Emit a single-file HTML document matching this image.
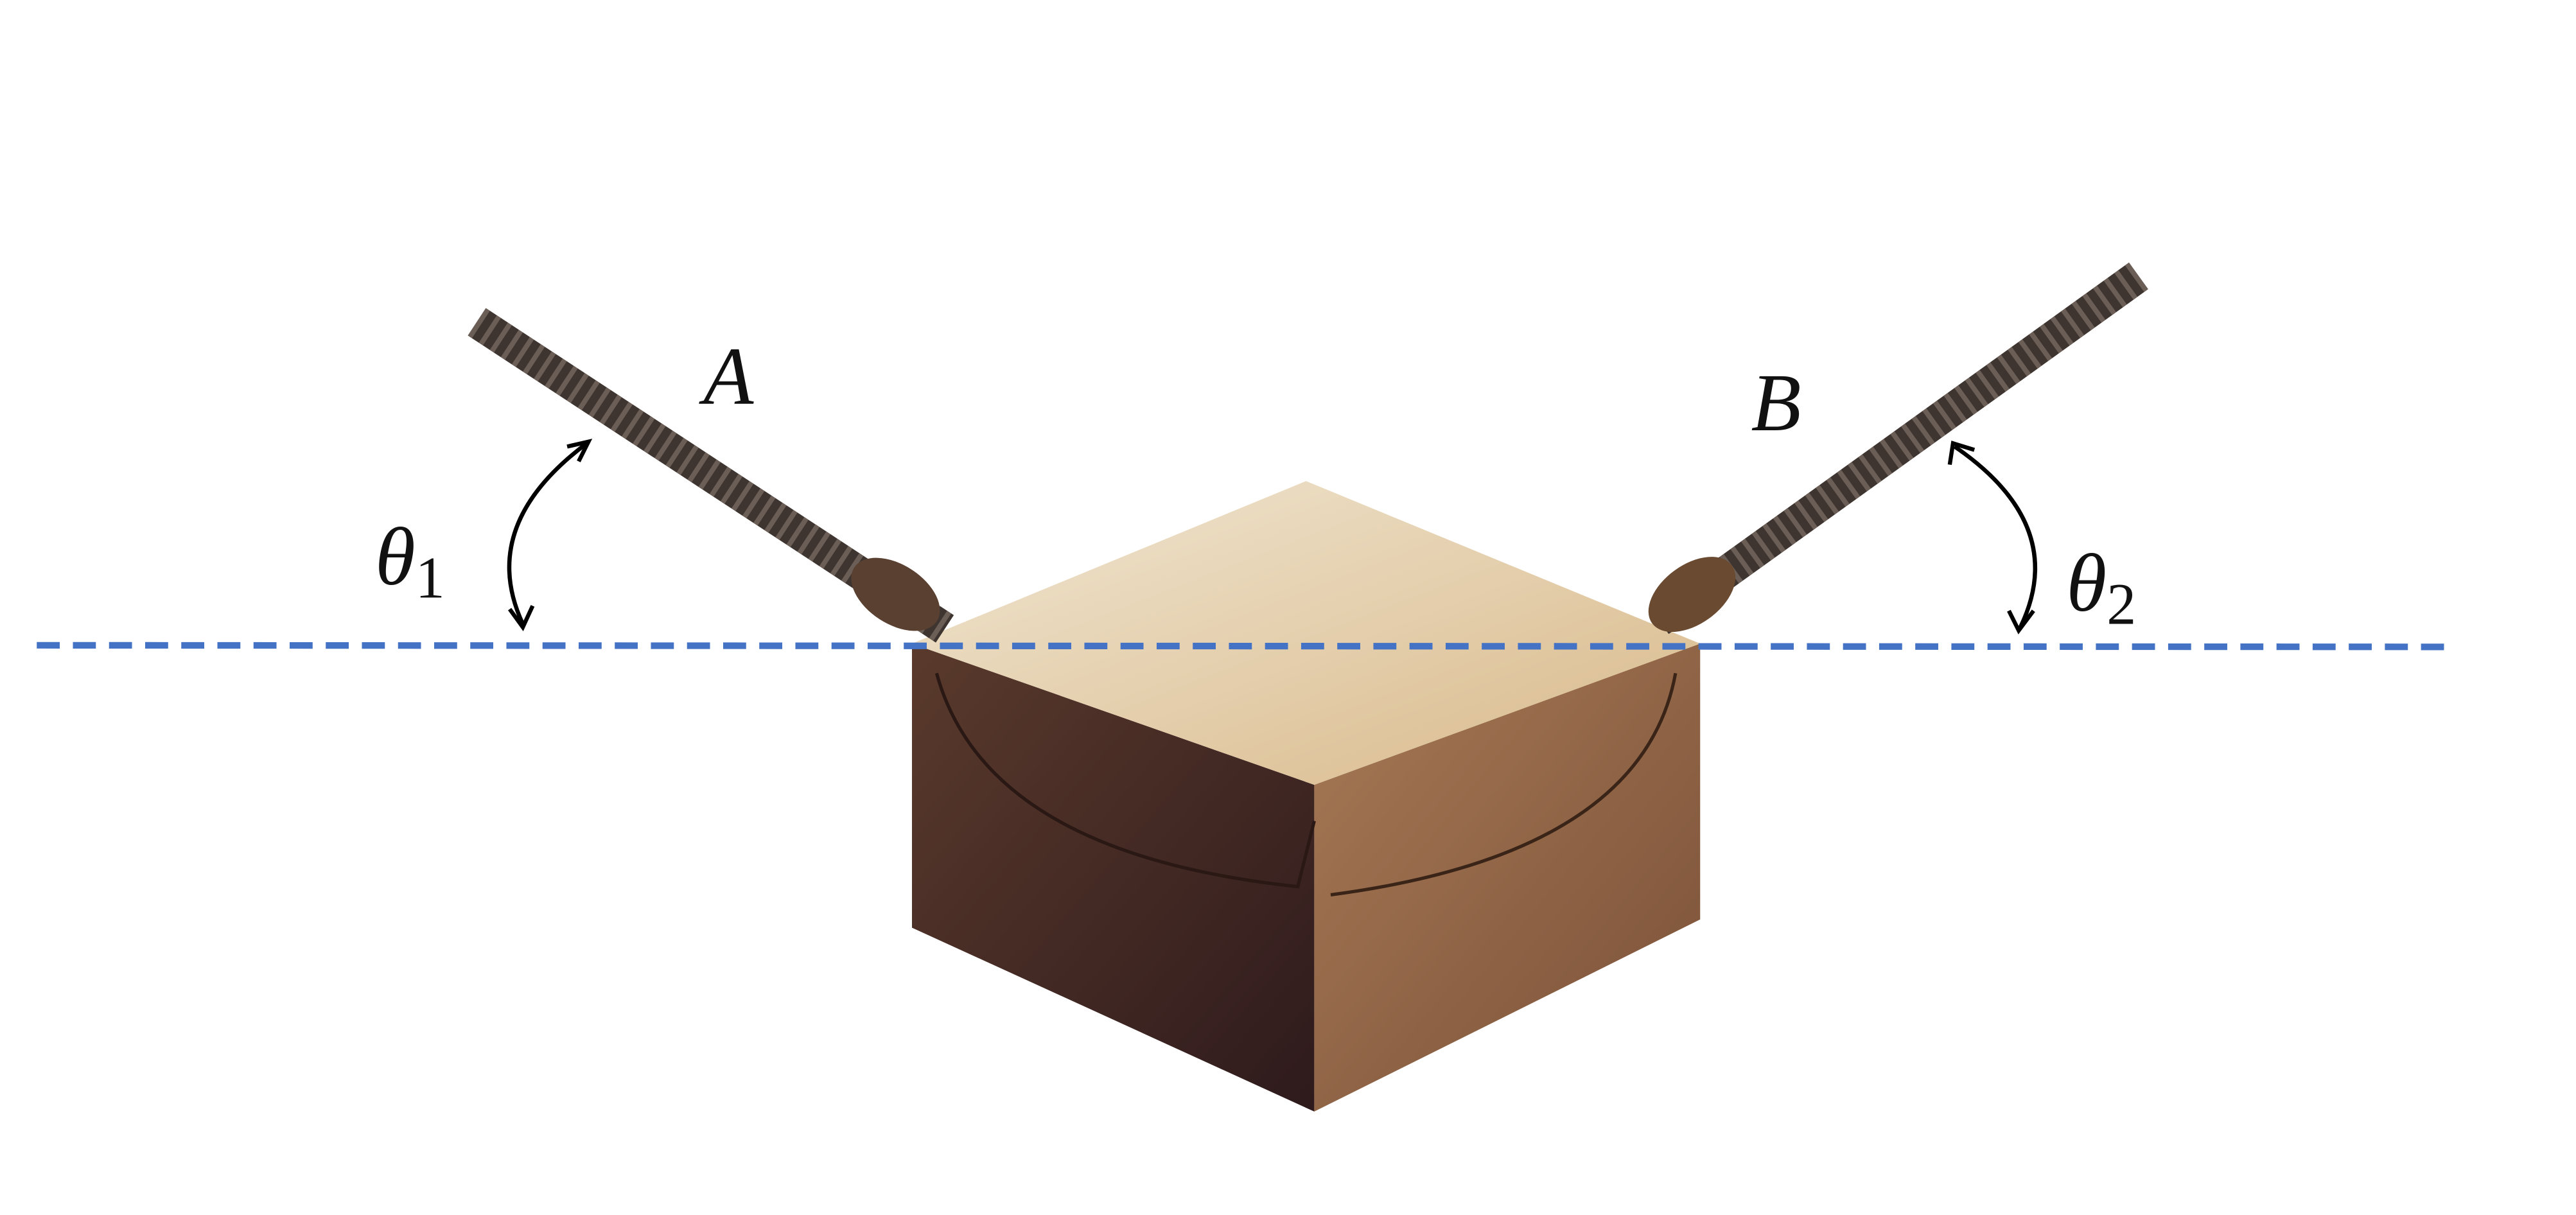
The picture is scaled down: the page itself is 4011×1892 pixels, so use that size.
<!DOCTYPE html>
<html><head><meta charset="utf-8"><style>
html,body{margin:0;padding:0;background:#fff;}
svg{display:block;}
text{font-family:"Liberation Serif",serif;font-style:italic;fill:#111;}
</style></head><body>
<svg width="4011" height="1892" viewBox="0 0 1568 740">
<defs>
<linearGradient id="topg" x1="0" y1="0" x2="1" y2="1"><stop offset="0" stop-color="#f0e6d2"/><stop offset="1" stop-color="#d9b98a"/></linearGradient>
<linearGradient id="leftg" x1="0" y1="0" x2="1" y2="1"><stop offset="0" stop-color="#5a3a2c"/><stop offset="1" stop-color="#2e1a1c"/></linearGradient>
<linearGradient id="rightg" x1="0" y1="0" x2="1" y2="1"><stop offset="0" stop-color="#a77a55"/><stop offset="1" stop-color="#7a5038"/></linearGradient>
</defs>
<g>
<polygon points="555,392 800,478 800,677 555,565" fill="url(#leftg)"/>
<polygon points="800,478 1035,392 1035,560 800,677" fill="url(#rightg)"/>
<polygon points="555,392 795,293 1035,392 800,478" fill="url(#topg)"/>
<path d="M570,410 Q600,520 790,540 L800,500" fill="none" stroke="#2a1814" stroke-width="2"/>
<path d="M1020,410 Q1000,520 810,545" fill="none" stroke="#3a2418" stroke-width="2"/>
</g>
<g>
<line x1="290" y1="196" x2="575" y2="383" stroke="#3e3530" stroke-width="20"/>
<line x1="290" y1="196" x2="575" y2="383" stroke="#8a7a70" stroke-width="20" stroke-dasharray="3 5" opacity="0.6"/>
<ellipse cx="545" cy="362" rx="30" ry="18" fill="#5a4030" transform="rotate(33 545 362)"/>
</g>
<g>
<line x1="1302" y1="168" x2="1010" y2="378" stroke="#3e3530" stroke-width="20"/>
<line x1="1302" y1="168" x2="1010" y2="378" stroke="#8a7a70" stroke-width="20" stroke-dasharray="3 5" opacity="0.6"/>
<ellipse cx="1030" cy="362" rx="30" ry="18" fill="#6a4a30" transform="rotate(-36 1030 362)"/>
</g>
<line x1="22" y1="393" x2="1496" y2="394" stroke="#4472c4" stroke-width="4" stroke-dasharray="14 8"/>
<g fill="none" stroke="#000" stroke-width="2.5">
<path d="M357,270 Q290,320 318,380"/>
<path d="M345,272 L358,269 L352,281"/>
<path d="M310,371 L318,382 L324,369"/>
</g>
<g fill="none" stroke="#000" stroke-width="2.5">
<path d="M1190,272 Q1260,320 1230,382"/>
<path d="M1187,283 L1189,270 L1202,274"/>
<path d="M1223,372 L1229,384 L1238,372"/>
</g>
<text x="428" y="246" font-size="50">A</text>
<text x="1066" y="262" font-size="50">B</text>
<text x="228" y="356" font-size="50">θ<tspan font-style="normal" font-size="36" dy="8">1</tspan></text>
<text x="1258" y="372" font-size="50">θ<tspan font-style="normal" font-size="36" dy="8">2</tspan></text>
</svg>
</body></html>
